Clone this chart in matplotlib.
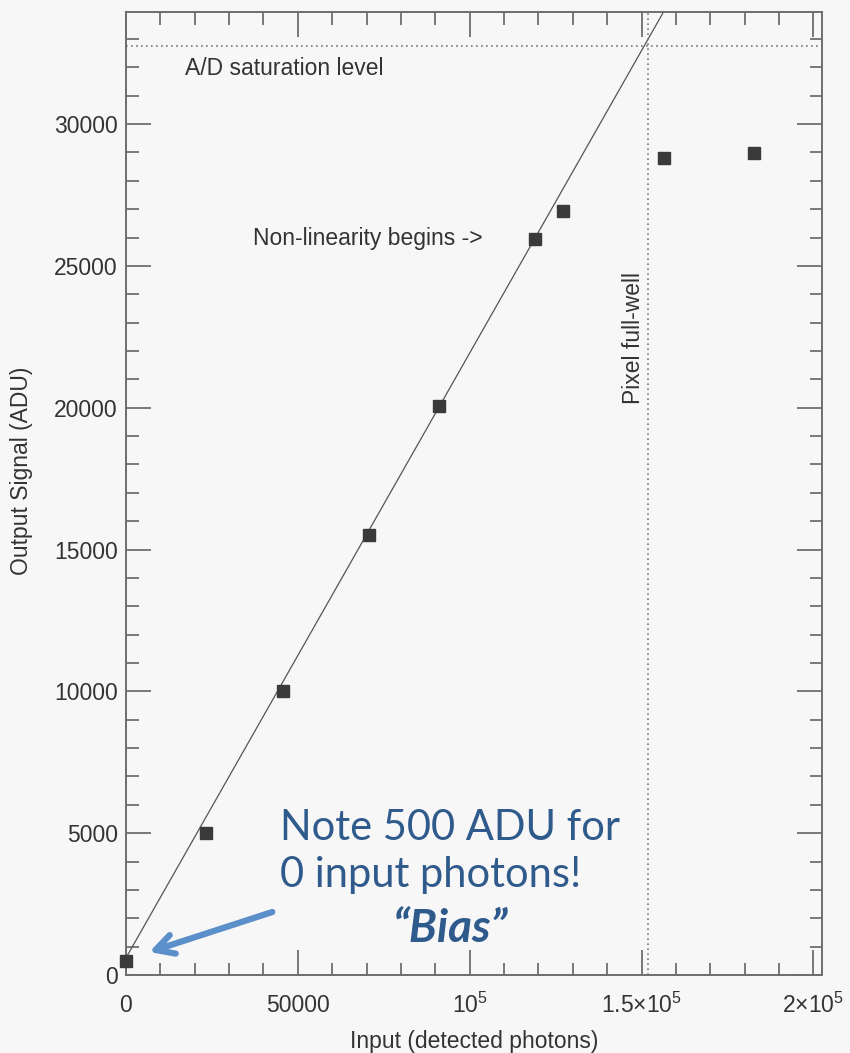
#libraries
import numpy as np
import matplotlib
matplotlib.use('Agg')
import matplotlib.pyplot as plt
from matplotlib.ticker import MultipleLocator

plt.rcParams['font.family'] = ['Liberation Sans', 'DejaVu Sans']
plt.rcParams['mathtext.fontset'] = 'custom'
plt.rcParams['mathtext.rm'] = 'Liberation Sans'

photons = [0, 23300, 45700, 70600, 91000, 119100, 127100, 156500, 182700]
adu = [500, 5000, 10000, 15500, 20050, 25950, 26950, 28800, 28980]

# linear fit drawn through the data
fit_x = [0, 160000]
fit_y = [600, 34720]

saturation = 32767
full_well = 152000

xticks = [0, 50000, 100000, 150000, 200000]
xticklabels = ['0', '50000', r'$\mathregular{10^5}$',
               r'$\mathregular{1.5{\times}10^5}$', r'$\mathregular{2{\times}10^5}$']
yticks = [0, 5000, 10000, 15000, 20000, 25000, 30000]

ink = '#333333'
axcol = '#6e6e6e'
blue_text = '#2f5a8c'
blue_arrow = '#5b8fc9'

fig = plt.figure(figsize=(8.5, 10.53), dpi=100, facecolor='#f7f7f7')
ax = fig.add_axes([0.1482, 0.0741, 0.8188, 0.9145])
ax.set_facecolor('#f7f7f7')

ax.plot(fit_x, fit_y, color='#555555', lw=0.9)
ax.plot(photons, adu, 's', color='#3a3a3a', markersize=8, clip_on=False, zorder=3)

ax.axhline(saturation, color='#777777', lw=1.2, ls=(0, (1, 2)))
ax.axvline(full_well, color='#777777', lw=1.2, ls=(0, (1, 2)))

ax.set_xlim(0, 202500)
ax.set_ylim(0, 33950)

ax.set_xticks(xticks)
ax.set_xticklabels(xticklabels)
ax.set_yticks(yticks)
ax.xaxis.set_minor_locator(MultipleLocator(10000))
ax.yaxis.set_minor_locator(MultipleLocator(1000))

ax.tick_params(which='both', direction='in', top=True, right=True, color=axcol,
               width=1.3, labelsize=16.5, labelcolor=ink)
ax.tick_params(which='major', length=18)
ax.tick_params(which='minor', length=9)
ax.tick_params(axis='y', pad=6)
ax.tick_params(axis='x', pad=27)
for lab in ax.get_xticklabels():
    lab.set_verticalalignment('baseline')

for sp in ax.spines.values():
    sp.set_color(axcol)
    sp.set_linewidth(1.4)

ax.set_xlabel('Input (detected photons)', fontsize=16.5, color=ink)
ax.set_ylabel('Output Signal (ADU)', fontsize=16.5, color=ink)
ax.xaxis.set_label_coords(0.5, -0.057)
ax.yaxis.set_label_coords(-0.134, 0.524)

ax.text(17260, 31970, 'A/D saturation level', fontsize=16.5, color=ink,
        ha='left', va='center')
ax.text(37050, 25980, 'Non-linearity begins ->', fontsize=16.5, color=ink,
        ha='left', va='center')
ax.text(147640, 22450, 'Pixel full-well', fontsize=16.5, color=ink,
        ha='center', va='center', rotation=90)

# slide overlay
ax.text(280/850, 1 - 840/1053, 'Note 500 ADU for', transform=fig.transFigure,
        fontsize=30, color=blue_text, family='Lato', ha='left', va='baseline')
ax.text(280/850, 1 - 887/1053, '0 input photons!', transform=fig.transFigure,
        fontsize=30, color=blue_text, family='Lato', ha='left', va='baseline')
ax.text(450/850, 1 - 929/1053, '\u201cBias\u201d', transform=fig.transFigure,
        fontsize=33, color=blue_text, family='Lato', weight='bold', style='italic',
        ha='center', va='center')
ax.annotate('', xy=(6780, 810), xytext=(42580, 2220),
            arrowprops=dict(arrowstyle='->, head_length=1.3, head_width=0.7',
                            color=blue_arrow, lw=4.5, shrinkA=0, shrinkB=0))

fig.savefig('out.png', dpi=100, facecolor=fig.get_facecolor())
